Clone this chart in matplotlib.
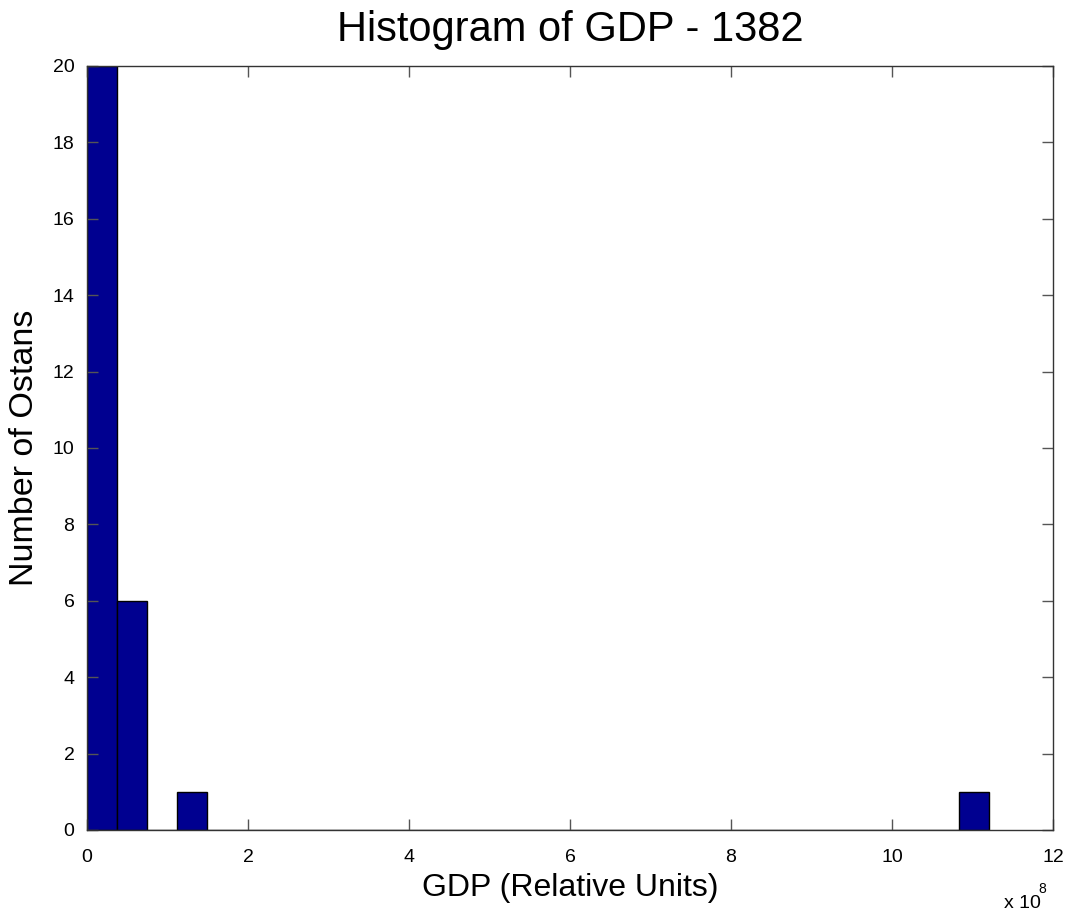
import numpy as np
import matplotlib.pyplot as plt
from matplotlib.ticker import FuncFormatter

# histogram of GDP per ostan, 30 bins between min and max
gdp_min = 0.0
gdp_max = 11.2e8
n_bins = 30
counts = [20, 6, 0, 1, 0, 0, 0, 0, 0, 0,
          0, 0, 0, 0, 0, 0, 0, 0, 0, 0,
          0, 0, 0, 0, 0, 0, 0, 0, 0, 1]
xticks = [0, 2, 4, 6, 8, 10, 12]
yticks = [0, 2, 4, 6, 8, 10, 12, 14, 16, 18, 20]

plt.rcParams['font.family'] = ['Liberation Sans', 'DejaVu Sans']

edges = np.linspace(gdp_min, gdp_max, n_bins + 1)
width = edges[1] - edges[0]

fig = plt.figure(figsize=(10.72, 9.17), dpi=100)
ax = fig.add_axes([87/1072, 87/917, 966/1072, 764/917])
ax.bar(edges[:-1], counts, width=width, align='edge',
       color='#000090', edgecolor='black', linewidth=1)

ax.set_xlim(0, 12e8)
ax.set_ylim(0, 20)
ax.set_xticks([t * 1e8 for t in xticks])
ax.xaxis.set_major_formatter(FuncFormatter(lambda v, p: '%g' % (v / 1e8)))
ax.set_yticks(yticks)
ax.tick_params(direction='in', length=8, width=1, color='#555555',
               labelsize=14, top=True, right=True)
ax.tick_params(axis='x', pad=14)
ax.tick_params(axis='y', pad=9)
for s in ax.spines.values():
    s.set_color('#333333')
    s.set_linewidth(1)

ax.set_title('Histogram of GDP - 1382', fontsize=30, pad=18)
ax.set_xlabel('GDP (Relative Units)', fontsize=23, labelpad=5)
ax.set_ylabel('Number of Ostans', fontsize=24.5, labelpad=9)
fig.text(1004/1072, 1 - 903/917, 'x 10', fontsize=14, ha='left', va='center')
fig.text(1038/1072, 1 - 889/917, '8', fontsize=10, ha='left', va='center')

fig.savefig('out.png', dpi=100)
